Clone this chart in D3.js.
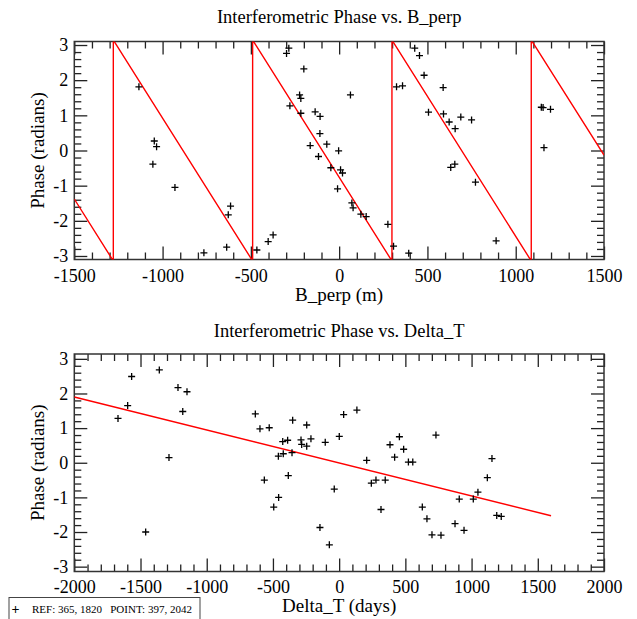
<!DOCTYPE html>
<html>
<head>
<meta charset="utf-8">
<script src="https://cdn.jsdelivr.net/npm/d3@7"></script>
<style>
  html, body { margin: 0; padding: 0; background: #fff; }
  svg { display: block; }
  text { font-family: "Liberation Serif", "DejaVu Serif", serif; fill: #000; }
</style>
</head>
<body>
<svg id="chart" width="637" height="619"></svg>
<script>
// ---------------- DATA ----------------
const bperpTicks = [-1500, -1000, -500, 0, 500, 1000, 1500];
const deltaTTicks = [-2000, -1500, -1000, -500, 0, 500, 1000, 1500, 2000];
const phaseTicks = [-3, -2, -1, 0, 1, 2, 3];

// Phase vs B_perp observations
const bperpX = [-1134, -1047, -1034, -1055, -930, -615, -628, -637, -766,
  -285, -298, -200, -224, -217, -279, -217, -136, -108, -109, -70, -164, -117, -3, -47, 8, 19, -9,
  72, 79, 123, 153, 64, 276, 308, 394, 325, 359, -466, -402, -374,
  428, 455, 481, 589, 506, 591, 623, 657, 689, 750, 632, 655, 772, 889, 1145, 1155, 1197, 1160];
const bperpPhase = [1.81, 0.27, 0.11, -0.39, -1.05, -1.58, -1.83, -2.75, -2.91,
  2.91, 2.76, 2.32, 1.58, 1.48, 1.27, 1.06, 1.10, 0.97, 0.48, 0.18, 0.14, -0.17, -0.01, -0.49, -0.55, -0.64, -1.09,
  -1.49, -1.63, -1.81, -1.88, 1.58, -2.10, -2.72, -2.92, 1.81, 1.84, -2.83, -2.59, -2.40,
  2.91, 2.70, 2.14, 1.79, 1.09, 1.04, 0.81, 0.62, 0.95, 0.87, -0.48, -0.39, -0.90, -2.57, 1.23, 1.22, 1.17, 0.08];

// Wrapped model line vertices (B_perp)
const bperpModelX = [-1500, -1279, -1279, -490, -490, 299, 299, 1088, 1088, 1500];
const bperpModelY = [-1.38, -3.1416, 3.1416, -3.1416, 3.1416, -3.1416, 3.1416, -3.1416, 3.1416, -0.13];

// Phase vs Delta_T observations
const deltaTX = [-1670, -1597, -1567, -1358, -1217, -1149, -1181, -1285, -1461,
  -633, -598, -528, -351, -245, -426, -389, -288, -283, -245, -213, -105, 1, 34, 134,
  -459, -422, -356, -565, -384, -457, -494, -37, -145, -74, 208, 243, 278, 348, 316,
  384, 455, 419, 487, 523, 556,
  731, 628, 663, 701, 769, 875, 943, 907, 1013, 1048, 1119, 1154, 1190, 1224];
const deltaTPhase = [1.28, 1.65, 2.49, 2.68, 2.17, 2.05, 1.48, 0.15, -2.00,
  1.41, 0.98, 1.01, 1.23, 1.09, 0.61, 0.65, 0.66, 0.53, 0.48, 0.69, 0.59, 0.76, 1.39, 1.52,
  0.19, 0.26, 0.29, -0.50, -0.37, -1.00, -1.28, -0.76, -1.87, -2.37, 0.07, -0.59, -0.50, -0.50, -1.35,
  0.52, 0.75, 0.16, 0.39, 0.02, 0.02,
  0.80, -1.28, -1.62, -2.08, -2.09, -1.76, -1.95, -1.05, -1.05, -0.85, -0.43, 0.12, -1.52, -1.55];

// Linear model line (Delta_T)
const deltaTModelX = [-2000, 1600];
const deltaTModelY = [1.90, -1.53];

const legendText = "REF: 365, 1820   POINT: 397, 2042";

// ---------------- DRAW ----------------
const svg = d3.select("#chart");
const fmt = d => String(d);

function panel(cfg) {
  const g = svg.append("g");
  const x = d3.scaleLinear().domain(cfg.xDomain).range([cfg.left, cfg.right]);
  const y = d3.scaleLinear().domain(cfg.yDomain).range([cfg.bottom, cfg.top]);
  const clipId = "clip" + cfg.id;
  svg.append("clipPath").attr("id", clipId).append("rect")
    .attr("x", cfg.left).attr("y", cfg.top)
    .attr("width", cfg.right - cfg.left).attr("height", cfg.bottom - cfg.top);

  const xMinor = d3.range(cfg.xDomain[0], cfg.xDomain[1] + 1e-9, cfg.xMinorStep)
    .filter(v => !cfg.xTicks.includes(v));
  const yMinor = d3.range(-3, 3.0001, 0.2).map(v => Math.round(v * 10) / 10)
    .filter(v => !phaseTicks.includes(v));

  const style = sel => {
    sel.select(".domain").remove();
    sel.selectAll(".tick line").attr("stroke", "#222").attr("stroke-width", 1.3);
    sel.selectAll(".tick text").attr("fill", "#000")
      .style("font-family", '"Liberation Serif", serif').style("font-size", "18px");
  };

  // bottom axis (labels)
  g.append("g").attr("transform", `translate(0,${cfg.bottom})`)
    .call(d3.axisBottom(x).tickValues(cfg.xTicks).tickFormat(fmt).tickSize(-13).tickPadding(cfg.xPad))
    .call(style);
  g.append("g").attr("transform", `translate(0,${cfg.bottom})`)
    .call(d3.axisBottom(x).tickValues(xMinor).tickFormat("").tickSize(-7)).call(style);
  // top axis
  g.append("g").attr("transform", `translate(0,${cfg.top})`)
    .call(d3.axisTop(x).tickValues(cfg.xTicks).tickFormat("").tickSize(-13)).call(style);
  g.append("g").attr("transform", `translate(0,${cfg.top})`)
    .call(d3.axisTop(x).tickValues(xMinor).tickFormat("").tickSize(-7)).call(style);
  // left axis (labels)
  g.append("g").attr("transform", `translate(${cfg.left},0)`)
    .call(d3.axisLeft(y).tickValues(phaseTicks).tickFormat(fmt).tickSize(-13).tickPadding(6))
    .call(style);
  g.append("g").attr("transform", `translate(${cfg.left},0)`)
    .call(d3.axisLeft(y).tickValues(yMinor).tickFormat("").tickSize(-7)).call(style);
  // right axis
  g.append("g").attr("transform", `translate(${cfg.right},0)`)
    .call(d3.axisRight(y).tickValues(phaseTicks).tickFormat("").tickSize(-13)).call(style);
  g.append("g").attr("transform", `translate(${cfg.right},0)`)
    .call(d3.axisRight(y).tickValues(yMinor).tickFormat("").tickSize(-7)).call(style);

  // frame
  g.append("rect").attr("x", cfg.left).attr("y", cfg.top)
    .attr("width", cfg.right - cfg.left).attr("height", cfg.bottom - cfg.top)
    .attr("fill", "none").attr("stroke", "#333").attr("stroke-width", 1.5);

  // model line
  const line = d3.line().x(d => x(d[0])).y(d => y(d[1]));
  g.append("path").datum(d3.zip(cfg.modelX, cfg.modelY))
    .attr("clip-path", `url(#${clipId})`)
    .attr("d", line).attr("fill", "none").attr("stroke", "#ff0000").attr("stroke-width", 1.4);

  // points
  const pts = d3.zip(cfg.px, cfg.py);
  const s = 3.5;
  g.append("g").selectAll("path").data(pts).join("path")
    .attr("d", d => `M${x(d[0]) - s},${y(d[1])}H${x(d[0]) + s}M${x(d[0])},${y(d[1]) - s}V${y(d[1]) + s}`)
    .attr("stroke", "#000").attr("stroke-width", 1.3).attr("fill", "none");

  // titles
  const cx = (cfg.left + cfg.right) / 2;
  svg.append("text").attr("x", cx).attr("y", cfg.titleY).attr("text-anchor", "middle")
    .style("font-size", "18.5px").text(cfg.title);
  svg.append("text").attr("x", cx).attr("y", cfg.xLabelY).attr("text-anchor", "middle")
    .style("font-size", "19px").text(cfg.xLabel);
  svg.append("text").attr("transform", `translate(44,${(cfg.top + cfg.bottom) / 2}) rotate(-90)`)
    .attr("text-anchor", "middle").style("font-size", "19px").text("Phase (radians)");
}

panel({
  id: "a", left: 74.3, right: 604, top: 41.5, bottom: 259.5,
  xDomain: [-1500, 1500], yDomain: [-3.1, 3.1], xTicks: bperpTicks, xMinorStep: 100, xPad: 9.5,
  modelX: bperpModelX, modelY: bperpModelY, px: bperpX, py: bperpPhase,
  title: "Interferometric Phase vs. B_perp", titleY: 23, xLabel: "B_perp (m)", xLabelY: 301
});

panel({
  id: "b", left: 74.3, right: 604, top: 354, bottom: 571.5,
  xDomain: [-2000, 2000], yDomain: [-3.14, 3.14], xTicks: deltaTTicks, xMinorStep: 100, xPad: 8.5,
  modelX: deltaTModelX, modelY: deltaTModelY, px: deltaTX, py: deltaTPhase,
  title: "Interferometric Phase vs. Delta_T", titleY: 337, xLabel: "Delta_T (days)", xLabelY: 612
});

// status/legend box
svg.append("rect").attr("x", 9).attr("y", 597.5).attr("width", 191).attr("height", 30)
  .attr("fill", "#fff").attr("stroke", "#444").attr("stroke-width", 1);
svg.append("text").attr("x", 15.5).attr("y", 614).attr("text-anchor", "middle")
  .style("font-size", "14px").style("font-weight", "bold").text("+");
svg.append("text").attr("x", 32).attr("y", 613)
  .style("font-size", "11px").attr("xml:space", "preserve").text(legendText);
</script>
</body>
</html>
